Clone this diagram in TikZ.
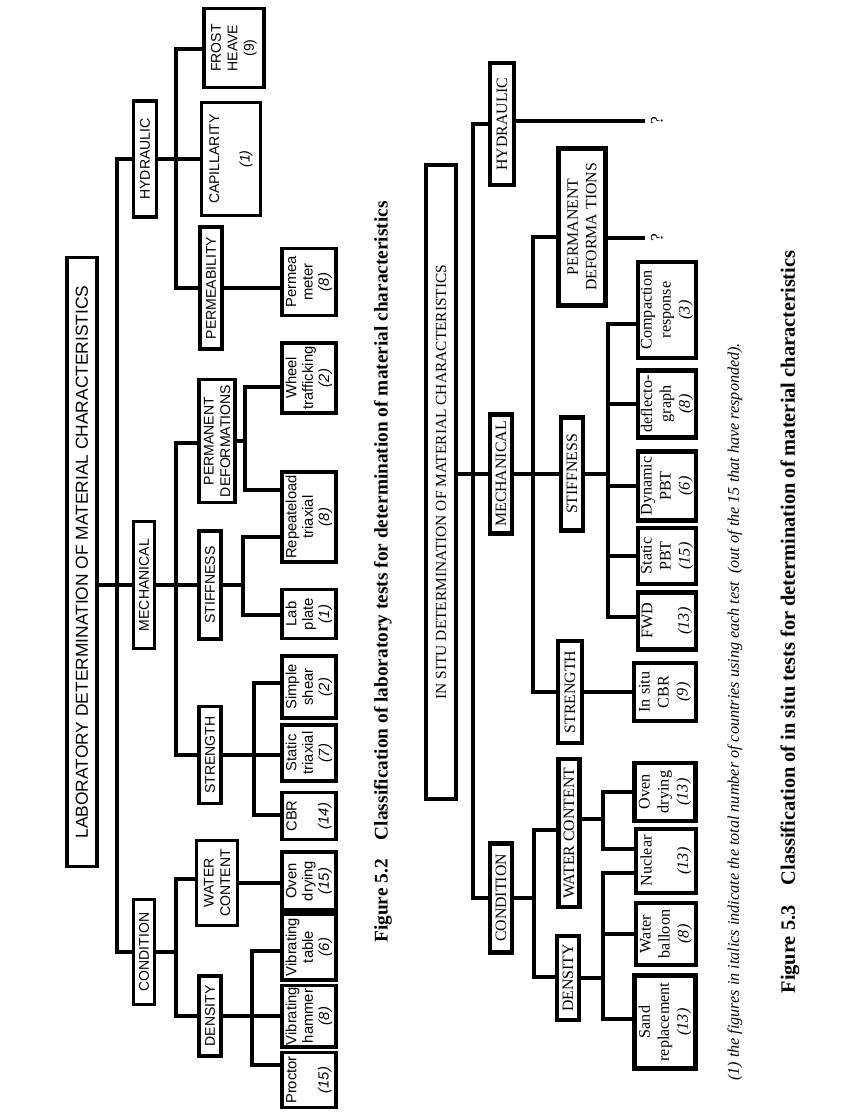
\documentclass[tikz,border=0pt]{standalone}
\usepackage{fontspec}
\setmainfont{Liberation Serif}
\newfontfamily\arialfont{Liberation Sans}
\tikzset{
	sz/.style 2 args={minimum width=#1*0.02cm, minimum height=#2*0.02cm},
	lbox/.style={draw, line width=2pt, font=\arialfont\fontsize{8}{9.4}\selectfont},
	lleaf/.style={lbox, font=\arialfont\fontsize{8.4}{9.3}\selectfont},
	sbox/.style={draw, line width=2.4pt, font=\fontsize{9}{10.5}\selectfont},
	sleaf/.style={sbox, font=\fontsize{9.2}{10.8}\selectfont},
	llink/.style={line width=2pt},
	slink/.style={line width=2.3pt}
}
\begin{document}
\begin{tikzpicture}[x=0.02cm, y=-0.02cm, every node/.style={rotate=90, inner sep=1pt, align=center}]
	\useasboundingbox (0,0) rectangle (856,1119);
	
	% 图 5.2 节点
	\node[lbox, sz={609}{30}, font=\arialfont\fontsize{9.9}{11}\selectfont] (title1) at (82,562) {LABORATORY DETERMINATION OF MATERIAL CHARACTERISTICS};
	\node[lbox, sz={116}{23}] (hyd1) at (145,159) {HYDRAULIC};
	\node[lbox, sz={127}{21}] (mech1) at (144,585) {MECHANICAL};
	\node[lbox, sz={105}{21}] (cond1) at (144,952) {CONDITION};
	\node[lbox, sz={79}{60}] (frost1) at (234,48) {FROST\\HEAVE\\(9)};
	\node[lbox, sz={113}{59}] (cap1) at (231,159) {CAPILLARITY\\[8pt]\textit{(1)}};
	\node[lbox, sz={122}{22}] (perm1) at (211,288) {PERMEABILITY};
	\node[lbox, sz={123}{36}] (pd1) at (217,441) {PERMANENT\\DEFORMATIONS};
	\node[lbox, sz={108}{22}] (stiff1) at (210,585) {STIFFNESS};
	\node[lbox, sz={97}{22}] (str1) at (210,755) {STRENGTH};
	\node[lbox, sz={85}{41}] (wc1) at (217,883) {WATER\\CONTENT};
	\node[lbox, sz={80}{22}] (dens1) at (210,1016) {DENSITY};
	
	% 图 5.2 试验
	\node[lleaf, sz={67}{54}] (pmeter) at (309,282) {Permea\\meter\\\textit{(8)}};
	\node[lleaf, sz={70}{54}] (wheel) at (309,378) {Wheel\\trafficking\\\textit{(2)}};
	\node[lleaf, sz={90}{54}] (rlt) at (309,517) {Repeateload\\triaxial\\\textit{(8)}};
	\node[lleaf, sz={49}{54}] (labp) at (309,614) {Lab\\plate\\\textit{(1)}};
	\node[lleaf, sz={62}{54}] (sshear) at (309,687) {Simple\\shear\\\textit{(2)}};
	\node[lleaf, sz={56}{54}] (striax) at (309,753) {Static\\triaxial\\\textit{(7)}};
	\node[lleaf, sz={47}{54}] (cbr1) at (309,816) {CBR\\[9pt]\textit{(14)}};
	\node[lleaf, sz={58}{54}] (oven1) at (309,881) {Oven\\drying\\\textit{(15)}};
	\node[lleaf, sz={66}{54}] (vtable) at (309,947) {Vibrating\\table\\\textit{(6)}};
	\node[lleaf, sz={61}{54}] (vhammer) at (309,1016) {Vibrating\\hammer\\\textit{(8)}};
	\node[lleaf, sz={55}{54}] (proctor) at (309,1080) {Proctor\\[9pt]\textit{(15)}};
	
	% 图 5.2 连线
	\coordinate (tk1) at (117,159);
	\coordinate (tk2) at (117,952);
	\draw[llink] (hyd1.north) -- (tk1) -- (tk2) -- (cond1.north);
	\draw[llink] (title1.south |- mech1.north) -- (mech1.north);
	\coordinate (hb1) at (176,49);
	\coordinate (hb2) at (176,288);
	\draw[llink] (hyd1.south) -- (cap1.north);
	\draw[llink] (hb1 -| frost1.north) -- (hb1) -- (hb2) -- (hb2 -| perm1.north);
	\draw[llink] (perm1.south |- hb2) -- (hb2 -| pmeter.north);
	\coordinate (mb1) at (176,443);
	\coordinate (mb2) at (176,755);
	\draw[llink] (mech1.south) -- (stiff1.north);
	\draw[llink] (mb1 -| pd1.north) -- (mb1) -- (mb2) -- (mb2 -| str1.north);
	\coordinate (pb1) at (245,387);
	\coordinate (pb2) at (245,490);
	\draw[llink] (pd1.south) -- (pd1.south -| pb1);
	\draw[llink] (pb1 -| wheel.north) -- (pb1) -- (pb2) -- (pb2 -| rlt.north);
	\coordinate (sb1) at (243,537);
	\coordinate (sb2) at (243,615);
	\draw[llink] (stiff1.south) -- (stiff1.south -| sb1);
	\draw[llink] (sb1 -| rlt.north) -- (sb1) -- (sb2) -- (sb2 -| labp.north);
	\coordinate (tb1) at (254,683);
	\coordinate (tb2) at (254,815);
	\draw[llink] (str1.south) -- (str1.south -| striax.north);
	\draw[llink] (tb1 -| sshear.north) -- (tb1) -- (tb2) -- (tb2 -| cbr1.north);
	\coordinate (cb1) at (176,879);
	\coordinate (cb2) at (176,1016);
	\draw[llink] (cond1.south) -- (cond1.south -| cb1);
	\draw[llink] (cb1 -| wc1.north) -- (cb1) -- (cb2) -- (cb2 -| dens1.north);
	\draw[llink] (wc1.south) -- (wc1.south -| oven1.north);
	\coordinate (db1) at (252,951);
	\coordinate (db2) at (252,1065);
	\draw[llink] (dens1.south) -- (dens1.south -| vhammer.north);
	\draw[llink] (db1 -| vtable.north) -- (db1) -- (db2) -- (db2 -| proctor.north);
	
	\node[font=\bfseries\fontsize{11}{13}\selectfont] (cap52) at (383,572) {Figure 5.2\quad Classification of laboratory tests for determination of material characteristics};
	
	% 图 5.3 节点
	\node[sbox, sz={634}{30}, font=\fontsize{8.8}{10}\selectfont] (title2) at (441,482) {IN SITU DETERMINATION OF MATERIAL CHARACTERISTICS};
	\node[sbox, sz={122}{24}] (hyd2) at (502,124) {HYDRAULIC};
	\node[sbox, sz={119}{22}] (mech2) at (501,474) {MECHANICAL};
	\node[sbox, sz={109}{22}] (cond2) at (501,898) {CONDITION};
	\node[sbox, sz={157}{47}] (pd2) at (582,227) {PERMANENT\\DEFORMA TIONS};
	\node[sbox, sz={113}{22}] (stiff2) at (572,474) {STIFFNESS};
	\node[sbox, sz={102}{24}] (str2) at (570,692) {STRENGTH};
	\node[sbox, sz={148}{21}] (wc2) at (569,833) {WATER CONTENT};
	\node[sbox, sz={84}{22}] (dens2) at (568,978) {DENSITY};
	\node[font=\fontsize{10}{12}\selectfont, inner sep=3.5pt] (q1) at (657,121) {?};
	\node[font=\fontsize{10}{12}\selectfont, inner sep=3.5pt] (q2) at (657,238) {?};
	
	% 图 5.3 试验
	\node[sleaf, sz={96}{58}] (comp) at (667,310) {Compaction\\response\\\textit{(3)}};
	\node[sleaf, sz={67}{58}] (defl) at (667,404) {deflecto-\\graph\\\textit{(8)}};
	\node[sleaf, sz={69}{58}] (dyn) at (667,486) {Dynamic\\PBT\\\textit{(6)}};
	\node[sleaf, sz={56}{58}] (spbt) at (667,556) {Static\\PBT\\\textit{(15)}};
	\node[sleaf, sz={57}{58}] (fwd) at (667,621) {FWD\\[10pt]\textit{(13)}};
	\node[sleaf, sz={58}{62}] (iscbr) at (665,692) {In situ\\CBR\\\textit{(9)}};
	\node[sleaf, sz={58}{61}] (oven2) at (665,792) {Oven\\drying\\\textit{(13)}};
	\node[sleaf, sz={64}{60}] (nucl) at (666,861) {Nuclear\\[10pt]\textit{(13)}};
	\node[sleaf, sz={62}{60}] (wball) at (666,934) {Water\\balloon\\\textit{(8)}};
	\node[sleaf, sz={93}{61}] (sand) at (665,1022) {Sand\\replacement\\\textit{(13)}};
	
	% 图 5.3 连线
	\coordinate (tk3) at (473,124);
	\coordinate (tk4) at (473,898);
	\draw[slink] (hyd2.north) -- (tk3) -- (tk4) -- (cond2.north);
	\draw[slink] (title2.south |- mech2.north) -- (mech2.north);
	\draw[slink] (hyd2.south |- q1) -- (q1.north);
	\coordinate (mb3) at (533,237);
	\coordinate (mb4) at (533,692);
	\draw[slink] (mech2.south) -- (stiff2.north);
	\draw[slink] (mb3 -| pd2.north) -- (mb3) -- (mb4) -- (mb4 -| str2.north);
	\draw[slink] (pd2.south |- q2) -- (q2.north);
	\draw[slink] (str2.south) -- (str2.south -| iscbr.north);
	\coordinate (sb3) at (608,324);
	\coordinate (sb4) at (608,617);
	\draw[slink] (stiff2.south) -- (stiff2.south -| sb3);
	\draw[slink] (sb3 -| comp.north) -- (sb3) -- (sb4) -- (sb4 -| fwd.north);
	\draw[slink] (sb3 |- defl.north) -- (defl.north);
	\draw[slink] (sb3 |- dyn.north) -- (dyn.north);
	\draw[slink] (sb3 |- spbt.north) -- (spbt.north);
	\coordinate (cb3) at (534,830);
	\coordinate (cb4) at (534,977);
	\draw[slink] (cond2.south) -- (cond2.south -| cb3);
	\draw[slink] (cb3 -| wc2.north) -- (cb3) -- (cb4) -- (cb4 -| dens2.north);
	\coordinate (wb0) at (603,819);
	\coordinate (wb1) at (603,792);
	\coordinate (wb2) at (603,849);
	\draw[slink] (wc2.south |- wb0) -- (wb0);
	\draw[slink] (wb1 -| oven2.north) -- (wb1) -- (wb2) -- (wb2 -| nucl.north);
	\coordinate (db3) at (603,873);
	\coordinate (db4) at (603,1019);
	\draw[slink] (dens2.south) -- (dens2.south -| db3);
	\draw[slink] (db3 -| nucl.north) -- (db3) -- (db4) -- (db4 -| sand.north);
	\draw[slink] (db3 |- wball.north) -- (wball.north);
	
	\node[font=\itshape\fontsize{9.2}{11}\selectfont] (note1) at (735,712) {(1) the figures in italics indicate the total number of countries using each test\ \ (out of the 15 that have responded).};
	\node[font=\bfseries\fontsize{11.6}{13}\selectfont] (cap53) at (790,622) {Figure 5.3\quad Classification of in situ tests for determination of material characteristics};
\end{tikzpicture}
\end{document}
